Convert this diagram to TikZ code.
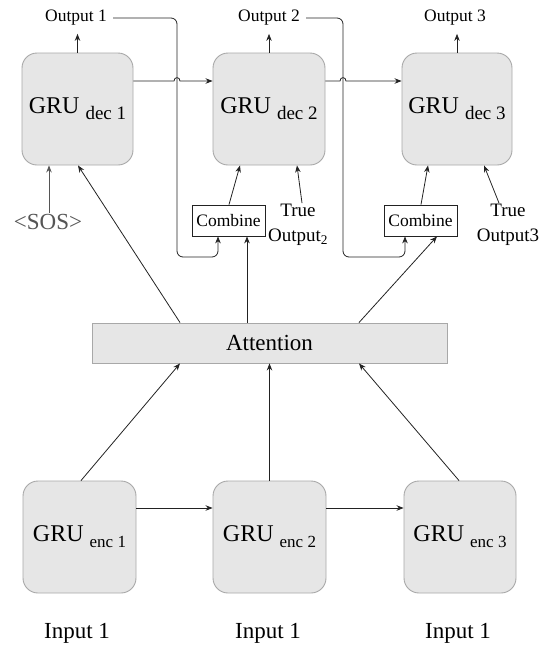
\documentclass[tikz,border=0pt]{standalone}
\usepackage{fontspec}
\setmainfont{Liberation Serif}
\usetikzlibrary{arrows.meta}
\definecolor{boxfill}{HTML}{E6E6E6}
\definecolor{boxline}{HTML}{A8A8A8}
\definecolor{ink}{HTML}{222222}
\definecolor{sosgray}{HTML}{555555}
\begin{document}
\begin{tikzpicture}[x=1pt,y=-1pt,
  gru/.style={draw=boxline, fill=boxfill, rounded corners=15pt, minimum width=112pt,
    minimum height=112pt, inner sep=0pt, line width=0.9pt, font=\fontsize{24}{26}\selectfont},
  arr/.style={-{Stealth[length=7pt,width=5.5pt]}, draw=ink, line width=0.8pt},
  plain/.style={draw=ink, line width=0.8pt},
  lbl/.style={font=\fontsize{17.5}{20}\selectfont, inner sep=1pt},
  big/.style={font=\fontsize{23}{26}\selectfont, inner sep=1pt},
  comb/.style={draw=ink, fill=white, line width=0.8pt, minimum width=73pt, minimum height=31pt,
    inner sep=0pt, font=\fontsize{17.5}{20}\selectfont},
  truelbl/.style={font=\fontsize{19}{25}\selectfont, align=center, inner sep=1pt}]
\useasboundingbox (0,0) rectangle (549,646);

% decoder
\node[gru, minimum width=111pt] (dec1) at (77.5,109) {GRU\ \raisebox{-6pt}{\fontsize{19}{19}\selectfont dec 1}};
\node[gru] (dec2) at (269,109) {GRU\ \raisebox{-6pt}{\fontsize{19}{19}\selectfont dec 2}};
\node[gru, minimum width=110pt] (dec3) at (457,109) {GRU\ \raisebox{-6pt}{\fontsize{19}{19}\selectfont dec 3}};

% encoder
\node[gru, minimum width=113pt] (enc1) at (79.5,537) {GRU\ \raisebox{-6pt}{\fontsize{17}{17}\selectfont enc 1}};
\node[gru, minimum width=113pt] (enc2) at (269.5,537) {GRU\ \raisebox{-6pt}{\fontsize{17}{17}\selectfont enc 2}};
\node[gru] (enc3) at (460,537) {GRU\ \raisebox{-6pt}{\fontsize{17}{17}\selectfont enc 3}};

% attention
\node[draw=boxline, fill=boxfill, line width=0.9pt, minimum width=355pt, minimum height=40pt,
  inner sep=0pt, font=\fontsize{23}{26}\selectfont] (att) at (269.5,343) {Attention};

% combine
\node[comb] (comb1) at (228.5,220.5) {Combine};
\node[comb] (comb2) at (420.5,220.5) {Combine};

% labels
\node[lbl] (out1) at (76,18) {Output 1};
\node[lbl] (out2) at (269,18) {Output 2};
\node[lbl] (out3) at (455,18) {Output 3};
\node[big, text=sosgray] (sos) at (48,222) {<SOS>};
\node[truelbl] (true2) at (298,225) {True\\Output\textsubscript{2}};
\node[truelbl] (true3) at (508,225) {True\\Output3};
\node[big] (in1) at (77,633) {Input 1};
\node[big] (in2) at (268,633) {Input 1};
\node[big] (in3) at (458,633) {Input 1};

\coordinate (c1) at (177,257);
\coordinate (c2) at (343,257);

% outputs
\draw[arr, shorten >=7pt] (dec1.north) -- (dec1.north |- out1.south);
\draw[arr, shorten >=7pt] (dec2.north) -- (dec2.north |- out2.south);
\draw[arr, shorten >=7pt] (dec3.north) -- (dec3.north |- out3.south);

% feedback of outputs into combine
\draw[arr, rounded corners=6pt] ([xshift=5pt]out1.east) -| (c1) -| ([xshift=-10.5pt]comb1.south);
\draw[arr, rounded corners=6pt] ([xshift=5pt]out2.east) -| (c2) -| ([xshift=-15.5pt]comb2.south);

% decoder chain with hops
\draw[arr] ([yshift=28pt]dec1.east) -- (174,81) .. controls (174,76.5) and (180,76.5) .. (180,81) -- ([yshift=28pt]dec2.west);
\draw[arr] ([yshift=28pt]dec2.east) -- (340,81) .. controls (340,76.5) and (346,76.5) .. (346,81) -- ([yshift=28pt]dec3.west);

% inputs into decoders
\draw[arr, draw=sosgray] ([xshift=1pt]sos.north) -- ([xshift=-28.5pt]dec1.south);
\draw[arr] ([xshift=0.5pt]comb1.north) -- ([xshift=-29pt]dec2.south);
\draw[arr] ([xshift=4pt]true2.north) -- ([xshift=28pt]dec2.south);
\draw[arr] ([xshift=0.5pt]comb2.north) -- ([xshift=-29pt]dec3.south);
\draw[arr] ([xshift=-9pt]true3.north) -- ([xshift=27pt]dec3.south);

% attention to decoder side
\draw[arr] ([xshift=-89.5pt]att.north) -- ([xshift=0.5pt]dec1.south);
\draw[arr] ([xshift=-22.5pt]att.north) -- ([xshift=18.5pt]comb1.south);
\draw[arr] ([xshift=89.5pt]att.north) -- ([xshift=16.5pt]comb2.south);

% encoder to attention
\draw[arr] ([xshift=1.5pt]enc1.north) -- ([xshift=-89.5pt]att.south);
\draw[arr] (enc2.north) -- (att.south);
\draw[arr] ([xshift=-1pt]enc3.north) -- ([xshift=89.5pt]att.south);

% encoder chain
\draw[arr] ([yshift=29pt]enc1.east) -- ([yshift=29pt]enc2.west);
\draw[arr] ([yshift=29pt]enc2.east) -- ([yshift=29pt]enc3.west);
\end{tikzpicture}
\end{document}
